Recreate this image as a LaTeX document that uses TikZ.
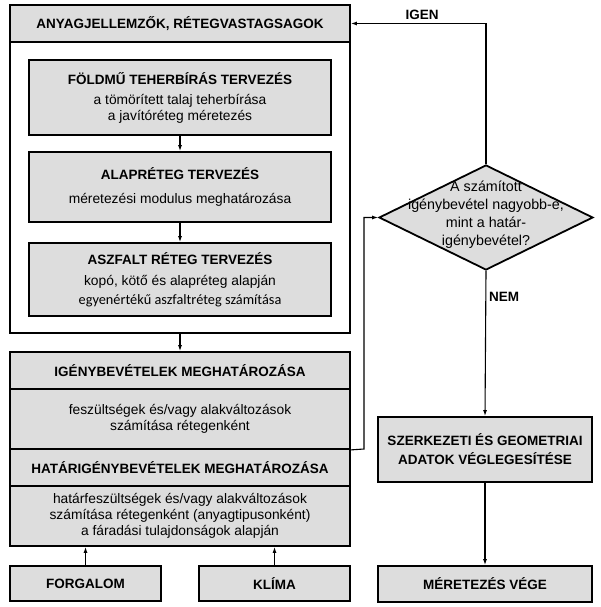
\documentclass[tikz,border=0pt]{standalone}
\usepackage{fontspec}
\setmainfont{Liberation Sans}
\newfontfamily\calfont{Carlito}
\usetikzlibrary{arrows.meta,shapes.geometric}
\definecolor{boxgray}{RGB}{221,221,221}
\newcommand\boxtitle[1]{{\fontsize{13.5}{16}\selectfont\bfseries #1}}
\begin{document}
\begin{tikzpicture}[x=1pt,y=-1pt,
  base/.style={draw, line width=1.8pt, inner sep=0pt, align=center, font=\fontsize{13.8}{16}\selectfont},
  graybox/.style={base, fill=boxgray},
  whitebox/.style={base, fill=white},
  conn/.style={line width=1.1pt, -{Latex[length=6pt,width=4pt]}},
  lbl/.style={font=\bfseries\fontsize{13.5}{16}\selectfont, inner sep=0pt}
]
\fill[white] (0,0) rectangle (600,607);
\useasboundingbox (0,0) rectangle (600,607);

% outer frame
\node[whitebox, minimum width=340pt, minimum height=328pt] (outer) at (180,169) {};
\node[graybox, minimum width=340pt, minimum height=37pt] (hdr) at (180,23.5)
  {\boxtitle{ANYAGJELLEMZŐK, RÉTEGVASTAGSAGOK}};

\node[graybox, minimum width=302pt, minimum height=75pt] (foldmu) at (180,97.5)
  {\boxtitle{FÖLDMŰ TEHERBÍRÁS TERVEZÉS}\\[4pt] a tömörített talaj teherbírása\\ a javítóréteg méretezés};
\node[graybox, minimum width=302pt, minimum height=70pt] (alap) at (180,187)
  {\boxtitle{ALAPRÉTEG TERVEZÉS}\\[8pt] méretezési modulus meghatározása};
\node[graybox, minimum width=302pt, minimum height=73pt] (aszf) at (180,279.5)
  {\boxtitle{ASZFALT RÉTEG TERVEZÉS}\\[5pt] kopó, kötő és alapréteg alapján\\[3pt] {\calfont\fontsize{14.3}{16}\selectfont egyenértékű aszfaltréteg számítása}};

% lower stack
\node[graybox, minimum width=340pt, minimum height=37pt] (igenyhdr) at (180,370.5)
  {\boxtitle{IGÉNYBEVÉTELEK MEGHATÁROZÁSA}};
\node[graybox, minimum width=340pt, minimum height=60pt] (igenybody) at (180,419)
  {feszültségek és/vagy alakváltozások\\ számítása rétegenként};
\node[graybox, minimum width=340pt, minimum height=37pt] (hatarhdr) at (180,467.5)
  {\boxtitle{HATÁRIGÉNYBEVÉTELEK MEGHATÁROZÁSA}};
\node[graybox, minimum width=340pt, minimum height=60pt] (hatarbody) at (180,516)
  {határfeszültségek és/vagy alakváltozások\\ számítása rétegenként (anyagtipusonként)\\ a fáradási tulajdonságok alapján};

\node[graybox, minimum width=151pt, minimum height=35pt] (forg) at (85.5,583.5) {\boxtitle{FORGALOM}};
\node[graybox, minimum width=151pt, minimum height=35pt] (klima) at (274.5,583.5) {\boxtitle{KLÍMA}};

% right column
\node[diamond, draw, line width=1.8pt, fill=boxgray, inner sep=0pt,
      minimum width=214pt, minimum height=105pt] (dec) at (486,217.5) {};
\node[align=center, inner sep=0pt, font=\fontsize{14.3}{18}\selectfont] (dectext) at ([yshift=3pt]dec.center)
  {A számított\\ igénybevétel nagyobb-e,\\ mint a határ-\\ igénybevétel?};

\node[graybox, minimum width=214pt, minimum height=65pt] (szerk) at (485,449.5)
  {\boxtitle{SZERKEZETI ÉS GEOMETRIAI}\\[3pt] \boxtitle{ADATOK VÉGLEGESÍTÉSE}};
\node[graybox, minimum width=214pt, minimum height=36pt] (vege) at (485,584)
  {\boxtitle{MÉRETEZÉS VÉGE}};

% connectors
\draw[conn] (foldmu.south) -- (alap.north);
\draw[conn] (alap.south) -- (aszf.north);
\draw[conn] (outer.south) -- (igenyhdr.north);
\draw[conn] (forg.north) -- (forg.north |- hatarbody.south);
\draw[conn] (klima.north) -- (klima.north |- hatarbody.south);

\draw[conn] (dec.north) |- (hdr.east);
\node[lbl] (igen) at (422,15) {IGEN};

\coordinate (fb) at (364,449);
\draw[conn] (igenybody.south east) -- (fb) |- (dec.west);

\draw[conn] (dec.south) -- (szerk.north);
\node[lbl, anchor=west] (nem) at (489,297) {NEM};
\draw[conn] (szerk.south) -- (vege.north);
\end{tikzpicture}
\end{document}
